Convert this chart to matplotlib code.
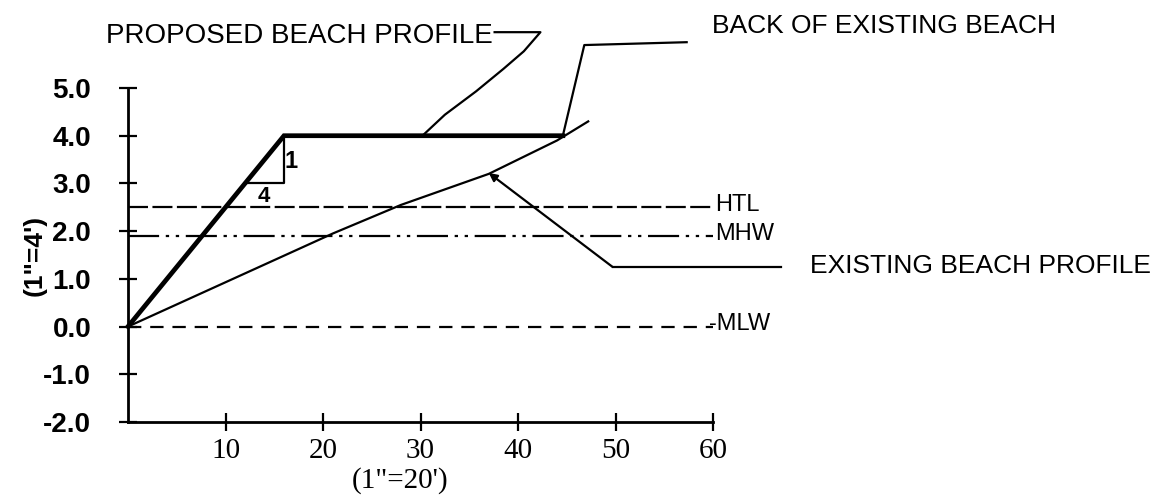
import matplotlib
matplotlib.use("Agg")
import matplotlib.pyplot as plt

plt.rcParams['axes.unicode_minus'] = False

# ---- data ----
proposed_x = [0, 16, 44.6]
proposed_y = [0.0, 4.0, 4.0]

existing_x = [0, 21, 28, 37, 44, 47.2]
existing_y = [0.0, 1.95, 2.55, 3.2, 3.9, 4.3]

tide_names = ["HTL", "MHW", "MLW"]
tide_levels = [2.5, 1.9, 0.0]
tide_x_end = 60

slope_triangle_x = [12, 16, 16]
slope_triangle_y = [3.0, 3.0, 4.0]

y_ticks = [-2.0, -1.0, 0.0, 1.0, 2.0, 3.0, 4.0, 5.0]
x_ticks = [10, 20, 30, 40, 50, 60]

SANS = ['Liberation Sans', 'DejaVu Sans']
NARROW = ['Liberation Sans Narrow', 'Liberation Sans', 'DejaVu Sans']
SERIF = ['Liberation Serif', 'DejaVu Serif']

fig = plt.figure(figsize=(11.68, 4.97), dpi=100)
ax = fig.add_axes([128/1168, 75/497, 585/1168, 334/497])
ax.set_xlim(0, 60)
ax.set_ylim(-2, 5)

for s in ['top', 'right']:
    ax.spines[s].set_visible(False)
for s in ['left', 'bottom']:
    ax.spines[s].set_linewidth(2)
ax.spines['left'].set_bounds(-2, 5)

ax.set_yticks(y_ticks)
ax.set_yticklabels([f"{v:.1f}" for v in y_ticks])
ax.set_xticks(x_ticks)
ax.set_xticklabels([str(v) for v in x_ticks])
ax.tick_params(axis='both', direction='inout', length=13, width=1.6, colors='black')
ax.tick_params(axis='y', pad=20)
ax.tick_params(axis='x', pad=5)
for lab in ax.get_yticklabels():
    lab.set_fontfamily(SANS)
    lab.set_fontsize(20)
    lab.set_fontweight('bold')
for lab in ax.get_xticklabels():
    lab.set_fontfamily(SERIF)
    lab.set_fontsize(21)

ax.set_xlabel('(1"=20\')', fontsize=21, family=SERIF)
ax.xaxis.set_label_coords(0.465, -0.175)
ax.xaxis.label.set_va('center')
ax.set_ylabel('(1"=4\')', fontsize=19, family=SANS, fontweight='bold')
ax.yaxis.set_label_coords(-0.159, 0.5)
ax.yaxis.label.set_va('center')

# tide lines
styles = {"HTL": dict(dashes=(9, 2)),
          "MHW": dict(dashes=(14, 3, 1.5, 3, 1.5, 3)),
          "MLW": dict(dashes=(6, 4))}
for name, lvl in zip(tide_names, tide_levels):
    ax.plot([0, tide_x_end], [lvl, lvl], color='black', lw=1.6,
            clip_on=False, **styles[name])
    label = "-" + name if name == "MLW" else name
    xpos = tide_x_end - 0.4 if name == "MLW" else tide_x_end + 0.2
    ax.text(xpos, lvl - 0.08, label, fontsize=17, family=NARROW,
            ha='left', va='baseline', clip_on=False)

# profiles
ax.plot(existing_x, existing_y, color='black', lw=1.6, clip_on=False,
        solid_joinstyle='round')
ax.plot(proposed_x, proposed_y, color='black', lw=3.4, clip_on=False,
        solid_joinstyle='miter')

# 1:4 slope triangle
ax.plot(slope_triangle_x, slope_triangle_y, color='black', lw=1.6)
ax.text(16.7, 3.45, "1", fontsize=17, fontweight='bold', family=SANS,
        ha='center', va='center')
ax.text(13.9, 2.72, "4", fontsize=16, fontweight='bold', family=SANS,
        ha='center', va='center')

# leaders and callouts
ax.plot([30.2, 32.5, 35.7, 38.5, 40.6, 42.3, 37.6],
        [4.0, 4.44, 4.93, 5.40, 5.77, 6.17, 6.17],
        color='black', lw=1.6, clip_on=False)
ax.text(37.4, 6.09, "PROPOSED BEACH PROFILE", fontsize=20, family=SANS,
        ha='right', va='center', clip_on=False)

ax.plot([44.6, 46.8, 57.3], [4.0, 5.9, 5.96], color='black', lw=1.6,
        clip_on=False)
ax.text(59.9, 6.3, "BACK OF EXISTING BEACH", fontsize=19, family=SANS,
        ha='left', va='center', clip_on=False)

ax.plot([49.7, 67.0], [1.25, 1.25], color='black', lw=1.6, clip_on=False)
ax.annotate("", xy=(37, 3.22), xytext=(49.7, 1.25),
            arrowprops=dict(arrowstyle='-|>', color='black', lw=1.6,
                            mutation_scale=12, shrinkA=0, shrinkB=0),
            annotation_clip=False)
ax.text(70.0, 1.27, "EXISTING BEACH PROFILE", fontsize=19, family=SANS,
        ha='left', va='center', clip_on=False)

fig.savefig("out.png", dpi=100)
